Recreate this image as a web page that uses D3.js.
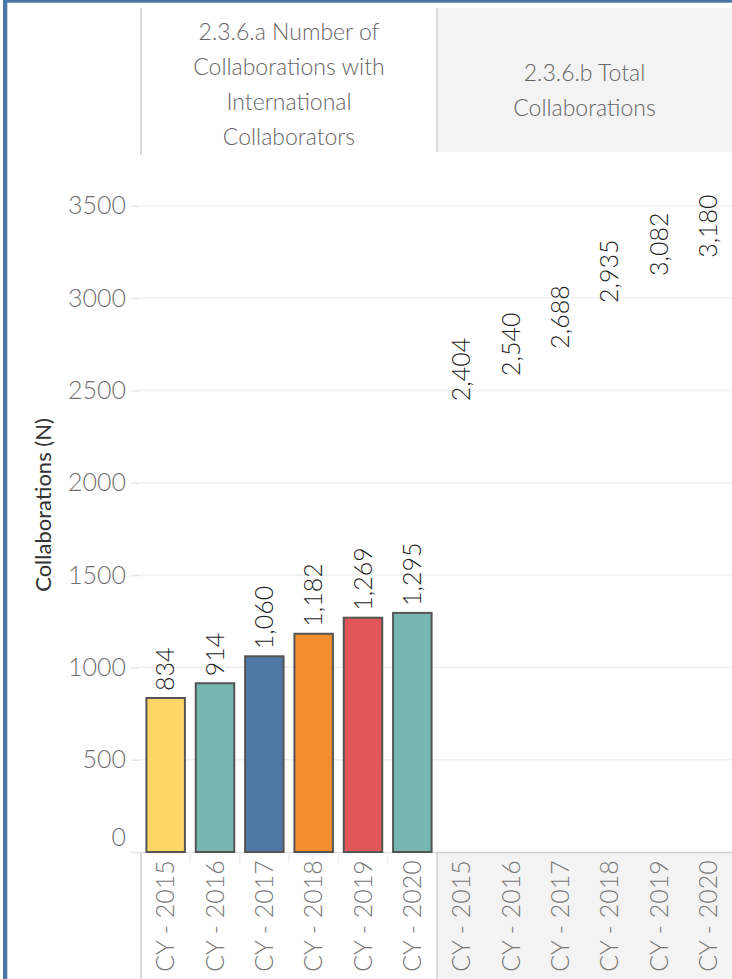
<!DOCTYPE html>
<html>
<head>
<meta charset="utf-8">
<script src="https://cdn.jsdelivr.net/npm/d3@7"></script>
<style>
  html, body { margin: 0; padding: 0; background: #ffffff; }
  svg { display: block; }
</style>
</head>
<body>
<svg id="chart" width="732" height="979"></svg>
<script>
// Collaborations by calendar year
const years = ["CY - 2015", "CY - 2016", "CY - 2017", "CY - 2018", "CY - 2019", "CY - 2020"];
const internationalCollabs = [834, 914, 1060, 1182, 1269, 1295];
const totalCollabs = [2404, 2540, 2688, 2935, 3082, 3180];
const yTicks = [0, 500, 1000, 1500, 2000, 2500, 3000, 3500];
const panelTitleA = ["2.3.6.a Number of", "Collaborations with", "International", "Collaborators"];
const panelTitleB = ["2.3.6.b Total", "Collaborations"];
const yAxisTitle = "Collaborations (N)";

// Tableau-style palette for the yearly bars
const palette = ["#fdd666", "#76b7b2", "#4e79a7", "#f28e2b", "#e15759", "#76b7b2"];

const svg = d3.select("#chart");
const W = 732, H = 979;
const lightFont = "Lato, 'Open Sans', sans-serif";

const plotTop = 155, plotBottom = 852;
const panelA = [141, 437], panelB = [437, 733];

const y = d3.scaleLinear().domain([0, 3775]).range([plotBottom, plotTop]);
const xA = d3.scaleBand().domain(years).range(panelA).padding(0);
const xB = d3.scaleBand().domain(years).range(panelB).padding(0);

// Header backgrounds and dividers
svg.append("rect").attr("x", panelB[0] + 1).attr("y", 8)
  .attr("width", W - panelB[0] - 1).attr("height", 144).attr("fill", "#f3f3f3");
svg.append("line").attr("x1", panelA[0]).attr("x2", panelA[0]).attr("y1", 8).attr("y2", 155)
  .attr("stroke", "#cfcfcf").attr("stroke-width", 1.5);
svg.append("line").attr("x1", panelB[0]).attr("x2", panelB[0]).attr("y1", 8).attr("y2", 152)
  .attr("stroke", "#cfcfcf").attr("stroke-width", 1.5);

function headerText(lines, cx, cy) {
  const lh = 35;
  const start = cy - (lines.length - 1) * lh / 2;
  svg.append("g").selectAll("text").data(lines).join("text")
    .attr("x", cx).attr("y", (d, i) => start + i * lh).attr("dy", "0.36em")
    .attr("text-anchor", "middle")
    .attr("font-family", lightFont).attr("font-weight", 300)
    .attr("font-size", 23).attr("fill", "#666")
    .text(d => d);
}
headerText(panelTitleA, (panelA[0] + panelA[1]) / 2, 84);
headerText(panelTitleB, (panelB[0] + W) / 2, 90);

// X-axis label areas
svg.append("rect").attr("x", panelB[0]).attr("y", plotBottom)
  .attr("width", W - panelB[0]).attr("height", H - plotBottom).attr("fill", "#f3f3f3");
svg.append("line").attr("x1", panelA[0]).attr("x2", panelB[0]).attr("y1", plotBottom + 0.5).attr("y2", plotBottom + 0.5)
  .attr("stroke", "#e2e2e2").attr("stroke-width", 1.5);
svg.append("line").attr("x1", panelB[0]).attr("x2", W).attr("y1", plotBottom + 0.5).attr("y2", plotBottom + 0.5)
  .attr("stroke", "#d2d2d2").attr("stroke-width", 1.5);
svg.append("g").selectAll("line").data(years.slice(1)).join("line")
  .attr("x1", d => xA(d)).attr("x2", d => xA(d))
  .attr("y1", plotBottom).attr("y2", plotBottom + 11)
  .attr("stroke", "#eeeeee").attr("stroke-width", 1.5);
svg.append("line").attr("x1", panelA[0]).attr("x2", panelA[0]).attr("y1", plotBottom).attr("y2", H)
  .attr("stroke", "#cfcfcf").attr("stroke-width", 1.5);
svg.append("line").attr("x1", panelB[0]).attr("x2", panelB[0]).attr("y1", plotBottom).attr("y2", H)
  .attr("stroke", "#cfcfcf").attr("stroke-width", 1.5);

// Gridlines
svg.append("g").selectAll("line").data(yTicks.filter(t => t > 0)).join("line")
  .attr("x1", panelA[0]).attr("x2", W)
  .attr("y1", d => y(d)).attr("y2", d => y(d))
  .attr("stroke", "#efefef").attr("stroke-width", 1.5);

// Y axis
const yAxis = svg.append("g").attr("transform", `translate(${panelA[0] - 1},0)`)
  .call(d3.axisLeft(y).tickValues(yTicks).tickSize(9).tickPadding(5).tickFormat(d3.format("d")));
yAxis.select(".domain").remove();
yAxis.selectAll(".tick line").attr("stroke", "#e6e6e6").attr("stroke-width", 1.5);
yAxis.selectAll(".tick text")
  .attr("font-family", lightFont).attr("font-weight", 300)
  .attr("font-size", 25).attr("fill", "#707070");
yAxis.selectAll(".tick").filter(d => d === 0).select("text").attr("y", -15);

svg.append("text")
  .attr("transform", `translate(43,505) rotate(-90)`)
  .attr("text-anchor", "middle").attr("dy", "0.35em")
  .attr("font-family", lightFont).attr("font-weight", 400)
  .attr("font-size", 22).attr("fill", "#333")
  .text(yAxisTitle);

// Bars: international collaborations
const barW = xA.bandwidth() * 0.78;
svg.append("g").selectAll("rect").data(internationalCollabs).join("rect")
  .attr("x", (d, i) => xA(years[i]) + xA.bandwidth() / 2 - barW / 2)
  .attr("y", d => y(d))
  .attr("width", barW)
  .attr("height", d => y(0) - y(d))
  .attr("fill", (d, i) => palette[i])
  .attr("stroke", "#555").attr("stroke-width", 2);

const fmt = d3.format(",");
function valueLabels(values, xs) {
  svg.append("g").selectAll("text").data(values).join("text")
    .attr("transform", (d, i) => `translate(${xs(years[i]) + xs.bandwidth() / 2},${y(d) - 7}) rotate(-90)`)
    .attr("dy", "0.35em").attr("text-anchor", "start")
    .attr("font-family", lightFont).attr("font-weight", 300)
    .attr("font-size", 25).attr("fill", "#1e1e1e")
    .text(d => fmt(d));
}
valueLabels(internationalCollabs, xA);
// Totals are shown as labels only
valueLabels(totalCollabs, xB);

// Category labels
function categoryLabels(xs) {
  svg.append("g").selectAll("text").data(years).join("text")
    .attr("transform", d => `translate(${xs(d) + xs.bandwidth() / 2},916) rotate(-90)`)
    .attr("dy", "0.35em").attr("text-anchor", "middle")
    .attr("font-family", lightFont).attr("font-weight", 300)
    .attr("font-size", 25).attr("fill", "#777")
    .text(d => d);
}
categoryLabels(xA);
categoryLabels(xB);

// Outer frame
svg.append("rect").attr("x", 3).attr("y", 0).attr("width", W - 3).attr("height", 2.7).attr("fill", "#4a76a8");
svg.append("rect").attr("x", 3).attr("y", 0).attr("width", 4.3).attr("height", H).attr("fill", "#4a76a8");
</script>
</body>
</html>
